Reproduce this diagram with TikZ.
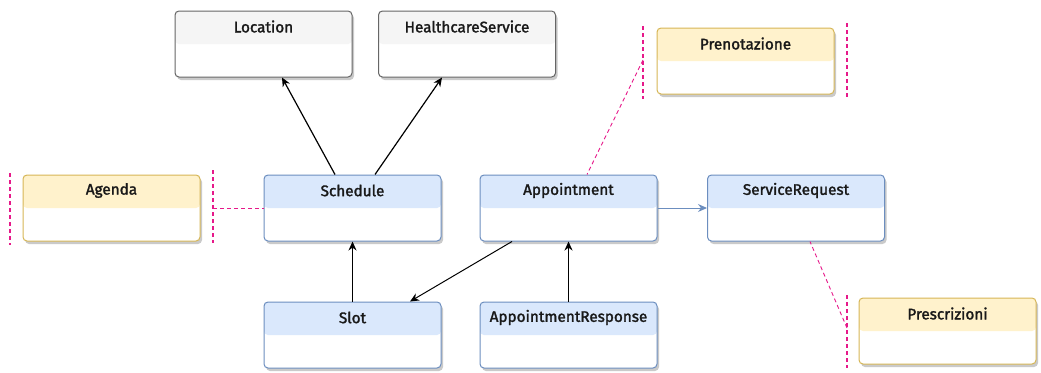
\documentclass[tikz,border=0pt]{standalone}
\usepackage{fontspec}
\setmainfont{Fira Sans}
\usetikzlibrary{shadows,arrows.meta}
\definecolor{bluefill}{HTML}{DAE8FC}
\definecolor{blueline}{HTML}{6C8EBF}
\definecolor{yelfill}{HTML}{FFF2CC}
\definecolor{yelline}{HTML}{D6B656}
\definecolor{grayfill}{HTML}{F5F5F5}
\definecolor{grayline}{HTML}{666666}
\definecolor{mag}{HTML}{E6198A}
\newfontface\ttlface{Fira Sans}[FakeBold=1.8]
\tikzset{
  cls/.style={rectangle, rounded corners=4pt, minimum width=177pt, minimum height=66pt,
    line width=1pt, inner sep=0pt, fill=white,
    drop shadow={shadow xshift=2pt, shadow yshift=-3pt, opacity=0.35, fill=black!60},
    path picture={\fill[#1] ([yshift=-33pt]path picture bounding box.north west) rectangle (path picture bounding box.north east);}},
  bluecls/.style={cls=bluefill, draw=blueline},
  yelcls/.style={cls=yelfill, draw=yelline},
  graycls/.style={cls=grayfill, draw=grayline},
  ttl/.style={font=\ttlface\fontsize{15.3}{17}\selectfont, text=black!90, anchor=center, yshift=-16pt},
  brk/.style={draw=mag, line width=1.4pt, dash pattern=on 4pt off 3pt},
  anno/.style={draw=mag, line width=0.9pt, dash pattern=on 4pt off 3pt},
  arr/.style={draw=black, line width=1.2pt, -{Stealth[length=9pt,width=8pt]}},
}
\begin{document}
\begin{tikzpicture}[x=1pt,y=-1pt]
\useasboundingbox (0,0) rectangle (1041,372);
\node[graycls, label={[ttl]north:Location}] (loc) at (263.5,44) {};
\node[graycls, label={[ttl]north:HealthcareService}] (hcs) at (467,44) {};
\node[yelcls, label={[ttl]north:Agenda}] (agenda) at (111.5,208) {};
\node[bluecls, label={[ttl]north:Schedule}] (sched) at (352.5,208) {};
\node[bluecls, label={[ttl]north:Appointment}] (appt) at (568.5,208) {};
\node[bluecls, label={[ttl]north:ServiceRequest}] (sreq) at (796,208) {};
\node[bluecls, label={[ttl]north:Slot}] (slot) at (352.5,335) {};
\node[bluecls, label={[ttl]north:AppointmentResponse}] (aresp) at (568.5,335) {};
\node[yelcls, label={[ttl]north:Prenotazione}] (pren) at (745.5,61) {};
\node[yelcls, label={[ttl]north:Prescrizioni}] (presc) at (947.5,331) {};
% brackets
\coordinate (agL1) at (10,173); \coordinate (agL2) at (10,245);
\coordinate (agR1) at (213,170); \coordinate (agR2) at (213,243);
\coordinate (agC) at (213,208);
\coordinate (prL1) at (643,26); \coordinate (prL2) at (643,99);
\coordinate (prR1) at (847,23); \coordinate (prR2) at (847,97);
\coordinate (prC) at (643,60);
\coordinate (psL1) at (847,295); \coordinate (psL2) at (847,368);
\coordinate (psC) at (847,328);
\draw[brk] (agL1) -- (agL2);
\draw[brk] (agR1) -- (agR2);
\draw[brk] (prL1) -- (prL2);
\draw[brk] (prR1) -- (prR2);
\draw[brk] (psL1) -- (psL2);
\draw[anno] (agC) -- (sched.west);
\draw[anno] (prC) -- ([xshift=18.5pt]appt.north);
\draw[anno] (psC) -- ([xshift=14pt]sreq.south);
% arrows
\draw[arr] ([xshift=-17.5pt]sched.north) -- ([xshift=18.5pt]loc.south);
\draw[arr] ([xshift=22.5pt]sched.north) -- ([xshift=-25pt]hcs.south);
\draw[arr] (slot.north) -- (sched.south);
\draw[draw=black, line width=1pt, -{Stealth[length=9pt,width=8pt]}] ([xshift=-56.5pt]appt.south) -- ([xshift=57.5pt]slot.north);
\draw[draw=black, line width=1.8pt, -{Stealth[length=9pt,width=8pt]}] (aresp.north) -- (appt.south);
\draw[draw=blueline, line width=1pt, -{Stealth[length=9pt,width=8pt]}] (appt.east) -- (sreq.west);
\end{tikzpicture}
\end{document}
